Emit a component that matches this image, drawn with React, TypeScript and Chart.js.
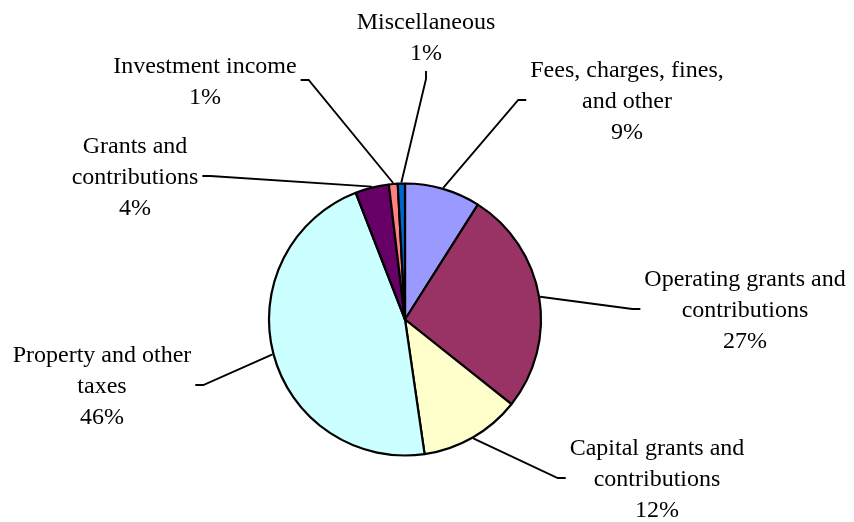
import React, { useEffect, useRef } from "react";
import { Chart, registerables } from "chart.js";

Chart.register(...registerables);

// ---- data ----
const categories: string[] = [
  "Fees, charges, fines,\nand other",
  "Operating grants and\ncontributions",
  "Capital grants and\ncontributions",
  "Property and other\ntaxes",
  "Grants and\ncontributions",
  "Investment income",
  "Miscellaneous",
];
const values: number[] = [9.0, 26.7, 12.0, 46.4, 4.0, 1.05, 0.85];
const colors: string[] = ["#9999FF", "#993366", "#FFFFCC", "#CCFFFF", "#660066", "#FF8080", "#0066CC"];

// ---- label layout (offset of each label block centre from pie centre, and side where the leader attaches) ----
type Attach = "left" | "right" | "bottom";
const labelDX: number[] = [222, 340, 252, -303, -270, -200, 21];
const labelDY: number[] = [-219.5, -10.5, 158.5, 65.5, -143.5, -239.5, -283.5];
const labelAttach: Attach[] = ["left", "left", "left", "right", "right", "right", "bottom"];

const FONT = "24px 'Liberation Serif', 'Times New Roman', serif";
const LINE_H = 31;
const TEXT_SHIFT = 2;
const GAP = 4;
const ELBOW = 8;

const outsideLabels = {
  id: "outsideLabels",
  afterDatasetsDraw(chart: any) {
    const ctx: CanvasRenderingContext2D = chart.ctx;
    const meta = chart.getDatasetMeta(0);
    const data: number[] = chart.data.datasets[0].data;
    const total = data.reduce((a, b) => a + b, 0);
    ctx.save();
    ctx.font = FONT;
    ctx.fillStyle = "#000";
    ctx.strokeStyle = "#000";
    ctx.lineWidth = 1.9;
    ctx.textAlign = "center";
    ctx.textBaseline = "middle";
    meta.data.forEach((arc: any, i: number) => {
      const { x, y, startAngle, endAngle, outerRadius } = arc.getProps(
        ["x", "y", "startAngle", "endAngle", "outerRadius"],
        true
      );
      const mid = (startAngle + endAngle) / 2;
      const p0x = x + Math.cos(mid) * (outerRadius + 1);
      const p0y = y + Math.sin(mid) * (outerRadius + 1);
      const pct = Math.round((data[i] / total) * 100) + "%";
      const lines = String(chart.data.labels[i]).split("\n").concat([pct]);
      const w = Math.max(...lines.map((l) => ctx.measureText(l).width));
      const h = lines.length * LINE_H;
      const cx = x + labelDX[i];
      const cy = y + labelDY[i];
      const top = cy - h / 2;
      lines.forEach((l, k) => ctx.fillText(l, cx, top + LINE_H * (k + 0.5) + TEXT_SHIFT));

      let ex: number, ey: number, bx: number, by: number;
      if (labelAttach[i] === "left") {
        ex = cx - w / 2 - GAP; ey = cy; bx = ex - ELBOW; by = ey;
      } else if (labelAttach[i] === "right") {
        ex = cx + w / 2 + GAP; ey = cy; bx = ex + ELBOW; by = ey;
      } else {
        ex = cx; ey = cy + h / 2 + GAP; bx = ex; by = ey + ELBOW;
      }
      ctx.beginPath();
      ctx.moveTo(p0x, p0y);
      ctx.lineTo(bx, by);
      ctx.lineTo(ex, ey);
      ctx.stroke();
    });
    ctx.restore();
  },
};

export default function App() {
  const ref = useRef<HTMLCanvasElement | null>(null);
  useEffect(() => {
    if (!ref.current) return;
    const chart = new Chart(ref.current, {
      type: "pie",
      data: {
        labels: categories,
        datasets: [
          {
            data: values,
            backgroundColor: colors,
            borderColor: "#000",
            borderWidth: 2.2,
            hoverOffset: 0,
            radius: 136,
          } as any,
        ],
      },
      options: {
        responsive: false,
        animation: false,
        devicePixelRatio: 1,
        layout: { padding: { left: 0, right: 44, top: 117, bottom: 0 } },
        plugins: {
          legend: { display: false },
          tooltip: { enabled: false },
        },
      },
      plugins: [outsideLabels],
    });
    return () => chart.destroy();
  }, []);
  return (
    <div style={{ position: "absolute", left: 0, top: 0, width: 854, height: 522, background: "#fff" }}>
      <canvas ref={ref} width={854} height={522} />
    </div>
  );
}
